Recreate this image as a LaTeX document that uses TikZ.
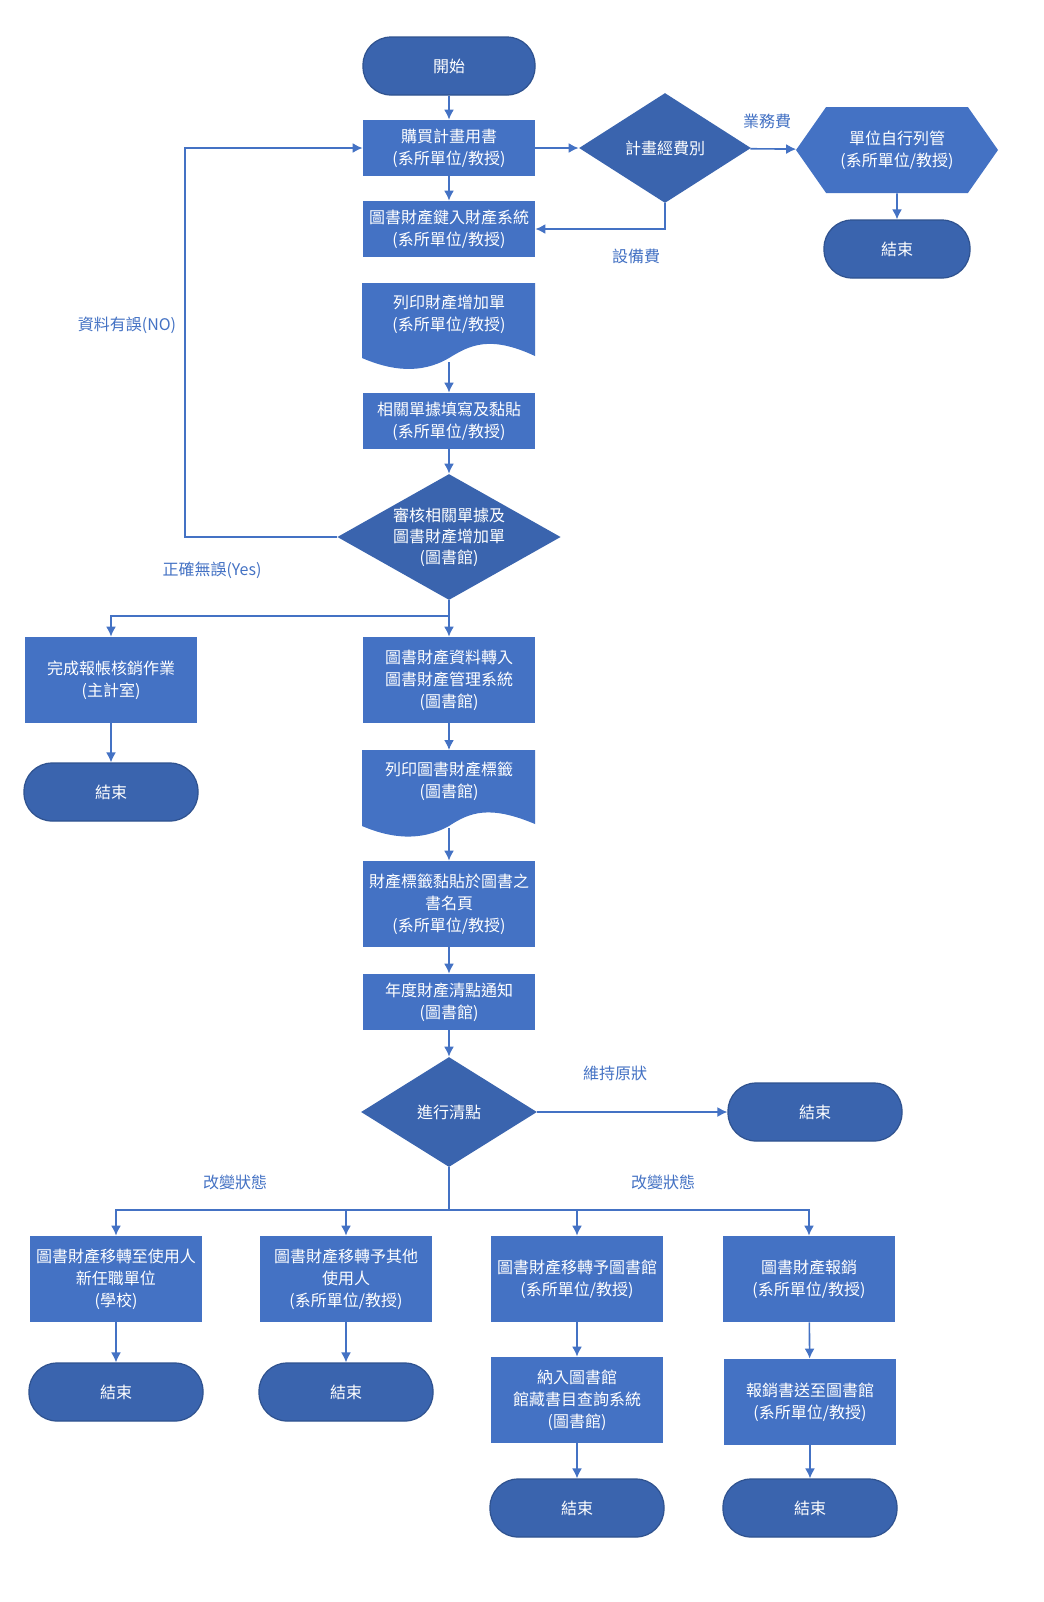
\documentclass[tikz,border=0pt]{standalone}
\usepackage{fontspec}
\setmainfont{Noto Sans CJK TC}
\usetikzlibrary{shapes.geometric,shapes.symbols,arrows.meta}
\definecolor{boxblue}{HTML}{4472C4}
\definecolor{termblue}{HTML}{3A64AE}
\definecolor{edgeblue}{HTML}{2F528F}
\tikzset{proc node/.style={rectangle,fill=boxblue,text=white,minimum width=86pt,minimum height=28pt,inner sep=1pt,align=center,font=\fontsize{8}{11}\selectfont},}
\tikzset{term node/.style={rectangle,rounded corners=14pt,fill=termblue,draw=edgeblue,line width=0.6pt,text=white,minimum width=86pt,minimum height=29pt,font=\fontsize{8}{11}\selectfont},}
\tikzset{dec node/.style={diamond,fill=termblue,text=white,inner sep=0pt,align=center,font=\fontsize{8}{11}\selectfont},}
\tikzset{lbl/.style={text=boxblue,font=\fontsize{8}{11}\selectfont},}
\tikzset{flow/.style={draw=boxblue,line width=0.8pt,-{Latex[length=5pt,width=5pt]}},}

\begin{document}
\begin{tikzpicture}[x=0.5pt,y=-0.5pt]
       \fill[white] (0,0) rectangle (1044,1602);

       \node[term node] (start) at (449,66) {開始};
       \node[proc node] (buy) at (449,148) {購買計畫用書\\(系所單位/教授)};
       \node[dec node,minimum width=86pt,minimum height=55pt] (fund) at (665,148) {計畫經費別};
       \node[signal,signal to=east and west,signal pointer angle=110,fill=boxblue,text=white,minimum width=101pt,minimum height=43pt,inner sep=1pt,align=center,font=\fontsize{8}{11}\selectfont] (self) at (897,150) {單位自行列管\\(系所單位/教授)};
       \node[term node,minimum width=73pt] (end1) at (897,249) {結束};
       \node[proc node] (key) at (449,229) {圖書財產鍵入財產系統\\(系所單位/教授)};

       % document shapes
       \fill[boxblue] (362,283) -- (535,283) -- (535,356) .. controls (490,335) and (470,345) .. (449,358) .. controls (420,375) and (390,370) .. (362,358) -- cycle;
       \node[align=center,text=white,font=\fontsize{8}{11}\selectfont] (print1) at (449,314) {列印財產增加單\\(系所單位/教授)};
       \node[proc node] (fill) at (449,421) {相關單據填寫及黏貼\\(系所單位/教授)};
       \node[dec node,aspect=1.9,minimum width=110pt,minimum height=63pt,font=\fontsize{8}{10.5}\selectfont] (check) at (449,537) {審核相關單據及\\圖書財產增加單\\(圖書館)};

       \node[proc node,minimum height=43pt] (acct) at (111,680) {完成報帳核銷作業\\(主計室)};
       \node[term node,minimum width=87pt] (end2) at (111,792) {結束};
       \node[proc node,minimum height=43pt] (trans) at (449,680) {圖書財產資料轉入\\圖書財產管理系統\\(圖書館)};
       \fill[boxblue] (362,750) -- (535,750) -- (535,824) .. controls (490,805) and (470,812) .. (449,826) .. controls (420,842) and (390,838) .. (362,826) -- cycle;
       \node[align=center,text=white,font=\fontsize{8}{11}\selectfont] (print2) at (449,781) {列印圖書財產標籤\\(圖書館)};
       \node[proc node,minimum height=43pt] (paste) at (449,904) {財產標籤黏貼於圖書之\\書名頁\\(系所單位/教授)};
       \node[proc node] (notice) at (449,1002) {年度財產清點通知\\(圖書館)};
       \node[dec node,minimum width=88pt,minimum height=55pt] (count) at (449,1112) {進行清點};
       \node[term node,minimum width=87pt] (end3) at (815,1112) {結束};

       \node[proc node,minimum height=43pt] (s1) at (116,1279) {圖書財產移轉至使用人\\新任職單位\\(學校)};
       \node[proc node,minimum height=43pt] (s2) at (346,1279) {圖書財產移轉予其他\\使用人\\(系所單位/教授)};
       \node[proc node,minimum height=43pt] (s3) at (577,1279) {圖書財產移轉予圖書館\\(系所單位/教授)};
       \node[proc node,minimum height=43pt] (s4) at (809,1279) {圖書財產報銷\\(系所單位/教授)};
       \node[term node,minimum width=87pt] (end4) at (116,1392) {結束};
       \node[term node,minimum width=87pt] (end5) at (346,1392) {結束};
       \node[proc node,minimum height=43pt] (lib) at (577,1400) {納入圖書館\\館藏書目查詢系統\\(圖書館)};
       \node[proc node,minimum height=43pt] (send) at (810,1402) {報銷書送至圖書館\\(系所單位/教授)};
       \node[term node,minimum width=87pt] (end6) at (577,1508) {結束};
       \node[term node,minimum width=87pt] (end7) at (810,1508) {結束};

       \node[lbl] (l1) at (767,121) {業務費};
       \node[lbl] (l2) at (636,256) {設備費};
       \node[lbl] (l3) at (127,325) {資料有誤(NO)};
       \node[lbl] (l4) at (212,570) {正確無誤(Yes)};
       \node[lbl] (l5) at (615,1073) {維持原狀};
       \node[lbl] (l6) at (235,1182) {改變狀態};
       \node[lbl] (l7) at (663,1182) {改變狀態};

       \draw[flow] (start) -- (buy);
       \draw[flow] (buy) -- (fund);
       \draw[flow] (fund) -- (self);
       \draw[flow] (self) -- (end1);
       \draw[flow] (fund.south) |- (key.east);
       \draw[flow] (buy) -- (key);
       \draw[flow] (449,362) -- (fill);
       \draw[flow] (fill) -- (check);
       \draw[flow] (check.west) -- (185,537) |- (buy.west);
       \draw[flow] (check.south) -- (449,616) -| (acct.north);
       \draw[flow] (check) -- (trans);
       \draw[flow] (acct) -- (end2);
       \draw[flow] (trans) -- (449,750);
       \draw[flow] (449,828) -- (paste);
       \draw[flow] (paste) -- (notice);
       \draw[flow] (notice) -- (count);
       \draw[flow] (count) -- (end3);
       \draw[draw=boxblue,line width=0.8pt] (count.south) -- (449,1210);
       \foreach \s in {s1,s2,s3,s4}
              \draw[flow] (449,1210) -| (\s.north);
       \draw[flow] (s1) -- (end4);
       \draw[flow] (s2) -- (end5);
       \draw[flow] (s3) -- (lib);
       \draw[flow] (s4) -- (send);
       \draw[flow] (lib) -- (end6);
       \draw[flow] (send) -- (end7);

       \pgfresetboundingbox
       \useasboundingbox (0,0) rectangle (1044,1602);
\end{tikzpicture}
\end{document}
